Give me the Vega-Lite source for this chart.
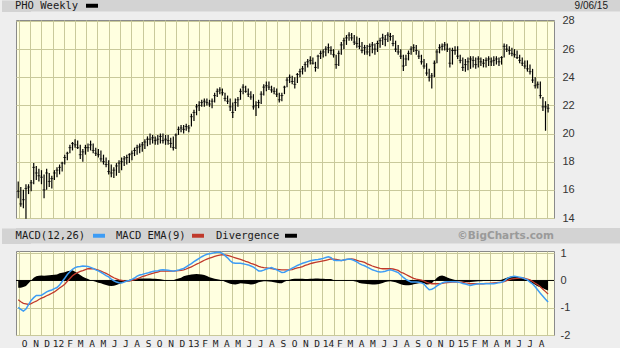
{
  "$schema": "https://vega.github.io/schema/vega-lite/v6.json",
  "background": "#eeeeee",
  "padding": 0,
  "spacing": 2,
  "config": {
    "axis": {"gridColor": "#c9c99b", "gridWidth": 1, "gridOpacity": 1, "labelColor": "#333333", "labelFont": "Liberation Sans", "labelFontSize": 11, "labelOverlap": false},
    "view": {"stroke": null}
  },
  "datasets": {
    "w": [
      {"d":"2011-09-30","l":15.4,"h":16.6,"c":15.9,"m":-0.99,"s":-0.71,"v":-0.27},
      {"d":"2011-10-07","l":14.8,"h":16.2,"c":15.0,"m":-1.06,"s":-0.78,"v":-0.27},
      {"d":"2011-10-14","l":14.7,"h":16.0,"c":15.3,"m":-1.12,"s":-0.84,"v":-0.24},
      {"d":"2011-10-21","l":13.95,"h":16.4,"c":16.1,"m":-1.05,"s":-0.86,"v":-0.2},
      {"d":"2011-10-28","l":15.7,"h":16.4,"c":16.2,"m":-0.89,"s":-0.88,"v":-0.1},
      {"d":"2011-11-04","l":15.9,"h":16.7,"c":16.5,"m":-0.73,"s":-0.85,"v":0.0},
      {"d":"2011-11-11","l":16.4,"h":17.9,"c":17.6,"m":-0.63,"s":-0.80,"v":0.1},
      {"d":"2011-11-18","l":16.7,"h":17.7,"c":17.2,"m":-0.55,"s":-0.76,"v":0.15},
      {"d":"2011-11-25","l":16.6,"h":17.5,"c":17.0,"m":-0.55,"s":-0.70,"v":0.17},
      {"d":"2011-12-02","l":16.4,"h":17.4,"c":16.9,"m":-0.54,"s":-0.65,"v":0.18},
      {"d":"2011-12-09","l":15.4,"h":17.1,"c":16.0,"m":-0.48,"s":-0.61,"v":0.17},
      {"d":"2011-12-16","l":16.0,"h":17.5,"c":17.2,"m":-0.42,"s":-0.56,"v":0.18},
      {"d":"2011-12-23","l":16.2,"h":17.2,"c":16.6,"m":-0.38,"s":-0.52,"v":0.19},
      {"d":"2011-12-30","l":16.1,"h":17.0,"c":16.8,"m":-0.35,"s":-0.47,"v":0.2},
      {"d":"2012-01-06","l":16.7,"h":17.4,"c":17.2,"m":-0.3,"s":-0.42,"v":0.21},
      {"d":"2012-01-13","l":16.9,"h":17.6,"c":17.4,"m":-0.26,"s":-0.35,"v":0.22},
      {"d":"2012-01-20","l":17.1,"h":17.8,"c":17.6,"m":-0.17,"s":-0.28,"v":0.26},
      {"d":"2012-01-27","l":17.3,"h":18.0,"c":17.9,"m":-0.04,"s":-0.21,"v":0.28},
      {"d":"2012-02-03","l":17.8,"h":18.5,"c":18.3,"m":0.08,"s":-0.14,"v":0.3},
      {"d":"2012-02-10","l":18.1,"h":18.7,"c":18.6,"m":0.22,"s":-0.03,"v":0.34},
      {"d":"2012-02-17","l":18.6,"h":19.2,"c":19.0,"m":0.32,"s":0.07,"v":0.36},
      {"d":"2012-02-24","l":18.8,"h":19.4,"c":19.3,"m":0.41,"s":0.17,"v":0.37},
      {"d":"2012-03-02","l":19.0,"h":19.6,"c":19.2,"m":0.47,"s":0.24,"v":0.32},
      {"d":"2012-03-09","l":18.9,"h":19.5,"c":19.0,"m":0.50,"s":0.29,"v":0.26},
      {"d":"2012-03-16","l":18.2,"h":19.2,"c":18.5,"m":0.51,"s":0.33,"v":0.2},
      {"d":"2012-03-23","l":18.0,"h":18.9,"c":18.7,"m":0.53,"s":0.36,"v":0.14},
      {"d":"2012-03-30","l":18.5,"h":19.2,"c":19.0,"m":0.52,"s":0.40,"v":0.09},
      {"d":"2012-04-06","l":18.7,"h":19.3,"c":19.0,"m":0.51,"s":0.43,"v":0.05},
      {"d":"2012-04-13","l":18.8,"h":19.5,"c":19.2,"m":0.48,"s":0.43,"v":0.01},
      {"d":"2012-04-20","l":18.6,"h":19.3,"c":18.8,"m":0.44,"s":0.43,"v":-0.02},
      {"d":"2012-04-27","l":18.4,"h":19.0,"c":18.6,"m":0.39,"s":0.41,"v":-0.05},
      {"d":"2012-05-04","l":18.3,"h":18.9,"c":18.5,"m":0.35,"s":0.38,"v":-0.08},
      {"d":"2012-05-11","l":18.0,"h":18.8,"c":18.2,"m":0.30,"s":0.34,"v":-0.1},
      {"d":"2012-05-18","l":17.8,"h":18.5,"c":18.0,"m":0.24,"s":0.30,"v":-0.14},
      {"d":"2012-05-25","l":17.6,"h":18.3,"c":17.8,"m":0.18,"s":0.26,"v":-0.17},
      {"d":"2012-06-01","l":17.1,"h":18.1,"c":17.3,"m":0.13,"s":0.21,"v":-0.19},
      {"d":"2012-06-08","l":16.9,"h":17.8,"c":17.2,"m":0.05,"s":0.15,"v":-0.2},
      {"d":"2012-06-15","l":16.85,"h":17.6,"c":17.4,"m":-0.01,"s":0.10,"v":-0.19},
      {"d":"2012-06-22","l":17.0,"h":17.9,"c":17.7,"m":-0.06,"s":0.06,"v":-0.17},
      {"d":"2012-06-29","l":17.2,"h":18.1,"c":17.9,"m":-0.08,"s":0.02,"v":-0.13},
      {"d":"2012-07-06","l":17.4,"h":18.3,"c":18.0,"m":-0.09,"s":0.0,"v":-0.09},
      {"d":"2012-07-13","l":17.7,"h":18.4,"c":18.2,"m":-0.06,"s":-0.02,"v":-0.05},
      {"d":"2012-07-20","l":17.8,"h":18.5,"c":18.3,"m":-0.02,"s":-0.03,"v":-0.02},
      {"d":"2012-07-27","l":17.9,"h":18.6,"c":18.5,"m":0.0,"s":-0.02,"v":0.03},
      {"d":"2012-08-03","l":18.1,"h":18.8,"c":18.6,"m":0.04,"s":0.0,"v":0.04},
      {"d":"2012-08-10","l":18.4,"h":19.0,"c":18.8,"m":0.09,"s":0.03,"v":0.05},
      {"d":"2012-08-17","l":18.5,"h":19.2,"c":19.0,"m":0.16,"s":0.06,"v":0.06},
      {"d":"2012-08-24","l":18.6,"h":19.3,"c":19.1,"m":0.2,"s":0.1,"v":0.07},
      {"d":"2012-08-31","l":18.7,"h":19.4,"c":19.2,"m":0.22,"s":0.14,"v":0.07},
      {"d":"2012-09-07","l":18.9,"h":19.6,"c":19.4,"m":0.25,"s":0.17,"v":0.07},
      {"d":"2012-09-14","l":19.1,"h":19.8,"c":19.6,"m":0.27,"s":0.20,"v":0.07},
      {"d":"2012-09-21","l":19.2,"h":20.0,"c":19.6,"m":0.30,"s":0.23,"v":0.07},
      {"d":"2012-09-28","l":19.3,"h":19.9,"c":19.7,"m":0.33,"s":0.26,"v":0.06},
      {"d":"2012-10-05","l":19.2,"h":19.8,"c":19.5,"m":0.35,"s":0.29,"v":0.06},
      {"d":"2012-10-12","l":19.2,"h":19.9,"c":19.6,"m":0.36,"s":0.31,"v":0.05},
      {"d":"2012-10-19","l":19.3,"h":20.0,"c":19.8,"m":0.38,"s":0.34,"v":0.04},
      {"d":"2012-10-26","l":19.3,"h":20.0,"c":19.5,"m":0.39,"s":0.34,"v":0.03},
      {"d":"2012-11-02","l":19.2,"h":19.9,"c":19.6,"m":0.38,"s":0.34,"v":0.01},
      {"d":"2012-11-09","l":19.2,"h":19.9,"c":19.5,"m":0.37,"s":0.34,"v":0.0},
      {"d":"2012-11-16","l":19.0,"h":19.7,"c":19.3,"m":0.36,"s":0.34,"v":0.0},
      {"d":"2012-11-23","l":18.8,"h":19.8,"c":19.0,"m":0.34,"s":0.34,"v":0.01},
      {"d":"2012-11-30","l":18.9,"h":20.0,"c":19.9,"m":0.36,"s":0.35,"v":0.04},
      {"d":"2012-12-07","l":19.9,"h":20.5,"c":20.3,"m":0.38,"s":0.36,"v":0.07},
      {"d":"2012-12-14","l":20.1,"h":20.6,"c":20.4,"m":0.41,"s":0.37,"v":0.1},
      {"d":"2012-12-21","l":20.0,"h":20.6,"c":20.3,"m":0.44,"s":0.39,"v":0.15},
      {"d":"2012-12-28","l":20.2,"h":20.7,"c":20.5,"m":0.5,"s":0.42,"v":0.18},
      {"d":"2013-01-04","l":20.1,"h":20.6,"c":20.4,"m":0.56,"s":0.46,"v":0.2},
      {"d":"2013-01-11","l":20.5,"h":21.4,"c":21.2,"m":0.62,"s":0.50,"v":0.22},
      {"d":"2013-01-18","l":20.9,"h":21.7,"c":21.5,"m":0.69,"s":0.55,"v":0.23},
      {"d":"2013-01-25","l":21.3,"h":22.1,"c":21.9,"m":0.75,"s":0.60,"v":0.24},
      {"d":"2013-02-01","l":21.6,"h":22.3,"c":22.0,"m":0.81,"s":0.64,"v":0.23},
      {"d":"2013-02-08","l":21.9,"h":22.4,"c":22.2,"m":0.87,"s":0.69,"v":0.22},
      {"d":"2013-02-15","l":21.9,"h":22.5,"c":22.3,"m":0.92,"s":0.74,"v":0.2},
      {"d":"2013-02-22","l":22.0,"h":22.5,"c":22.2,"m":0.96,"s":0.78,"v":0.16},
      {"d":"2013-03-01","l":21.9,"h":22.4,"c":22.1,"m":0.98,"s":0.82,"v":0.12},
      {"d":"2013-03-08","l":21.8,"h":22.5,"c":22.3,"m":1.0,"s":0.85,"v":0.09},
      {"d":"2013-03-15","l":22.2,"h":22.9,"c":22.7,"m":1.02,"s":0.88,"v":0.06},
      {"d":"2013-03-22","l":22.6,"h":23.2,"c":23.0,"m":1.03,"s":0.91,"v":0.04},
      {"d":"2013-03-29","l":22.8,"h":23.3,"c":23.1,"m":1.03,"s":0.93,"v":0.03},
      {"d":"2013-04-05","l":22.7,"h":23.2,"c":22.9,"m":0.99,"s":0.95,"v":0.0},
      {"d":"2013-04-12","l":22.3,"h":22.9,"c":22.5,"m":0.91,"s":0.94,"v":-0.05},
      {"d":"2013-04-19","l":22.1,"h":22.7,"c":22.3,"m":0.83,"s":0.92,"v":-0.08},
      {"d":"2013-04-26","l":21.6,"h":22.5,"c":21.9,"m":0.72,"s":0.89,"v":-0.12},
      {"d":"2013-05-03","l":21.1,"h":22.2,"c":21.5,"m":0.65,"s":0.86,"v":-0.14},
      {"d":"2013-05-10","l":21.6,"h":22.5,"c":22.2,"m":0.63,"s":0.83,"v":-0.15},
      {"d":"2013-05-17","l":21.9,"h":22.6,"c":22.4,"m":0.63,"s":0.80,"v":-0.13},
      {"d":"2013-05-24","l":22.4,"h":23.2,"c":23.0,"m":0.63,"s":0.77,"v":-0.1},
      {"d":"2013-05-31","l":22.8,"h":23.5,"c":23.3,"m":0.61,"s":0.74,"v":-0.11},
      {"d":"2013-06-07","l":22.9,"h":23.4,"c":23.0,"m":0.59,"s":0.70,"v":-0.12},
      {"d":"2013-06-14","l":22.6,"h":23.2,"c":22.8,"m":0.57,"s":0.67,"v":-0.13},
      {"d":"2013-06-21","l":22.4,"h":23.0,"c":22.6,"m":0.53,"s":0.63,"v":-0.15},
      {"d":"2013-06-28","l":21.7,"h":22.8,"c":21.9,"m":0.49,"s":0.60,"v":-0.14},
      {"d":"2013-07-05","l":21.25,"h":22.3,"c":22.0,"m":0.42,"s":0.56,"v":-0.11},
      {"d":"2013-07-12","l":21.8,"h":22.4,"c":22.2,"m":0.35,"s":0.52,"v":-0.07},
      {"d":"2013-07-19","l":22.1,"h":23.0,"c":22.8,"m":0.35,"s":0.49,"v":-0.05},
      {"d":"2013-07-26","l":22.7,"h":23.5,"c":23.3,"m":0.38,"s":0.47,"v":-0.03},
      {"d":"2013-08-02","l":23.0,"h":23.7,"c":23.4,"m":0.42,"s":0.46,"v":-0.03},
      {"d":"2013-08-09","l":23.1,"h":23.7,"c":23.3,"m":0.45,"s":0.44,"v":-0.04},
      {"d":"2013-08-16","l":22.9,"h":23.4,"c":23.1,"m":0.47,"s":0.43,"v":-0.05},
      {"d":"2013-08-23","l":22.8,"h":23.3,"c":23.0,"m":0.43,"s":0.42,"v":-0.07},
      {"d":"2013-08-30","l":22.6,"h":23.2,"c":22.8,"m":0.39,"s":0.41,"v":-0.08},
      {"d":"2013-09-06","l":22.2,"h":22.9,"c":22.4,"m":0.34,"s":0.40,"v":-0.1},
      {"d":"2013-09-13","l":22.3,"h":22.9,"c":22.7,"m":0.29,"s":0.39,"v":-0.1},
      {"d":"2013-09-20","l":22.8,"h":23.4,"c":23.3,"m":0.3,"s":0.39,"v":-0.05},
      {"d":"2013-09-27","l":23.3,"h":24.0,"c":23.8,"m":0.35,"s":0.39,"v":-0.01},
      {"d":"2013-10-04","l":23.6,"h":24.2,"c":24.0,"m":0.40,"s":0.39,"v":0.03},
      {"d":"2013-10-11","l":23.5,"h":24.1,"c":23.7,"m":0.45,"s":0.40,"v":0.05},
      {"d":"2013-10-18","l":23.2,"h":24.0,"c":23.5,"m":0.50,"s":0.43,"v":0.06},
      {"d":"2013-10-25","l":23.6,"h":24.3,"c":24.2,"m":0.55,"s":0.46,"v":0.06},
      {"d":"2013-11-01","l":24.0,"h":24.6,"c":24.4,"m":0.59,"s":0.48,"v":0.06},
      {"d":"2013-11-08","l":24.2,"h":24.8,"c":24.6,"m":0.63,"s":0.51,"v":0.06},
      {"d":"2013-11-15","l":24.4,"h":25.1,"c":24.9,"m":0.66,"s":0.55,"v":0.05},
      {"d":"2013-11-22","l":24.7,"h":25.3,"c":25.1,"m":0.69,"s":0.58,"v":0.05},
      {"d":"2013-11-29","l":24.9,"h":25.5,"c":25.2,"m":0.72,"s":0.62,"v":0.06},
      {"d":"2013-12-06","l":24.9,"h":25.4,"c":25.0,"m":0.74,"s":0.64,"v":0.06},
      {"d":"2013-12-13","l":24.4,"h":25.1,"c":24.7,"m":0.76,"s":0.66,"v":0.07},
      {"d":"2013-12-20","l":24.6,"h":25.6,"c":25.5,"m":0.77,"s":0.68,"v":0.07},
      {"d":"2013-12-27","l":25.3,"h":25.9,"c":25.7,"m":0.79,"s":0.70,"v":0.06},
      {"d":"2014-01-03","l":25.4,"h":26.0,"c":25.8,"m":0.81,"s":0.72,"v":0.06},
      {"d":"2014-01-10","l":25.5,"h":26.2,"c":26.0,"m":0.84,"s":0.74,"v":0.05},
      {"d":"2014-01-17","l":25.7,"h":26.4,"c":26.1,"m":0.87,"s":0.76,"v":0.05},
      {"d":"2014-01-24","l":25.6,"h":26.2,"c":25.9,"m":0.84,"s":0.79,"v":0.05},
      {"d":"2014-01-31","l":25.4,"h":26.0,"c":25.6,"m":0.75,"s":0.78,"v":0.02},
      {"d":"2014-02-07","l":24.6,"h":25.6,"c":24.9,"m":0.73,"s":0.77,"v":0.0},
      {"d":"2014-02-14","l":24.8,"h":25.9,"c":25.7,"m":0.73,"s":0.75,"v":0.0},
      {"d":"2014-02-21","l":25.6,"h":26.5,"c":26.3,"m":0.73,"s":0.73,"v":0.0},
      {"d":"2014-02-28","l":26.0,"h":26.8,"c":26.6,"m":0.75,"s":0.75,"v":0.01},
      {"d":"2014-03-07","l":26.3,"h":27.0,"c":26.8,"m":0.77,"s":0.77,"v":0.02},
      {"d":"2014-03-14","l":26.6,"h":27.2,"c":27.0,"m":0.79,"s":0.78,"v":0.01},
      {"d":"2014-03-21","l":26.6,"h":27.15,"c":26.8,"m":0.77,"s":0.79,"v":0.0},
      {"d":"2014-03-28","l":26.3,"h":27.0,"c":26.5,"m":0.73,"s":0.77,"v":-0.03},
      {"d":"2014-04-04","l":26.1,"h":26.9,"c":26.4,"m":0.68,"s":0.74,"v":-0.05},
      {"d":"2014-04-11","l":26.0,"h":26.8,"c":26.2,"m":0.62,"s":0.71,"v":-0.09},
      {"d":"2014-04-18","l":25.7,"h":26.5,"c":25.9,"m":0.57,"s":0.69,"v":-0.11},
      {"d":"2014-04-25","l":25.6,"h":26.3,"c":26.1,"m":0.54,"s":0.66,"v":-0.12},
      {"d":"2014-05-02","l":25.6,"h":26.3,"c":25.8,"m":0.49,"s":0.61,"v":-0.13},
      {"d":"2014-05-09","l":25.5,"h":26.4,"c":26.2,"m":0.44,"s":0.57,"v":-0.14},
      {"d":"2014-05-16","l":25.7,"h":26.5,"c":26.3,"m":0.39,"s":0.53,"v":-0.15},
      {"d":"2014-05-23","l":25.6,"h":26.4,"c":26.0,"m":0.36,"s":0.50,"v":-0.15},
      {"d":"2014-05-30","l":25.8,"h":26.6,"c":26.4,"m":0.33,"s":0.47,"v":-0.14},
      {"d":"2014-06-06","l":26.1,"h":26.8,"c":26.6,"m":0.31,"s":0.44,"v":-0.12},
      {"d":"2014-06-13","l":26.3,"h":27.1,"c":26.8,"m":0.32,"s":0.43,"v":-0.09},
      {"d":"2014-06-20","l":26.2,"h":27.0,"c":26.7,"m":0.34,"s":0.43,"v":-0.06},
      {"d":"2014-06-27","l":26.5,"h":27.2,"c":27.0,"m":0.37,"s":0.43,"v":-0.04},
      {"d":"2014-07-04","l":26.6,"h":27.15,"c":26.9,"m":0.39,"s":0.43,"v":-0.03},
      {"d":"2014-07-11","l":26.2,"h":27.0,"c":26.4,"m":0.36,"s":0.42,"v":-0.05},
      {"d":"2014-07-18","l":25.8,"h":26.6,"c":26.0,"m":0.33,"s":0.40,"v":-0.07},
      {"d":"2014-07-25","l":25.6,"h":26.3,"c":25.8,"m":0.29,"s":0.37,"v":-0.1},
      {"d":"2014-08-01","l":25.3,"h":26.0,"c":25.5,"m":0.20,"s":0.30,"v":-0.14},
      {"d":"2014-08-08","l":24.45,"h":25.6,"c":24.8,"m":0.11,"s":0.27,"v":-0.17},
      {"d":"2014-08-15","l":24.8,"h":25.6,"c":25.3,"m":0.04,"s":0.22,"v":-0.18},
      {"d":"2014-08-22","l":25.2,"h":25.9,"c":25.7,"m":-0.01,"s":0.17,"v":-0.18},
      {"d":"2014-08-29","l":25.6,"h":26.2,"c":26.0,"m":-0.06,"s":0.12,"v":-0.17},
      {"d":"2014-09-05","l":25.8,"h":26.35,"c":26.1,"m":-0.06,"s":0.08,"v":-0.14},
      {"d":"2014-09-12","l":25.6,"h":26.3,"c":25.9,"m":-0.06,"s":0.05,"v":-0.12},
      {"d":"2014-09-19","l":25.3,"h":25.9,"c":25.5,"m":-0.07,"s":0.03,"v":-0.1},
      {"d":"2014-09-26","l":24.9,"h":25.6,"c":25.1,"m":-0.09,"s":0.01,"v":-0.08},
      {"d":"2014-10-03","l":24.6,"h":25.3,"c":24.8,"m":-0.13,"s":-0.02,"v":-0.1},
      {"d":"2014-10-10","l":24.1,"h":25.0,"c":24.3,"m":-0.25,"s":-0.07,"v":-0.15},
      {"d":"2014-10-17","l":23.7,"h":24.6,"c":24.0,"m":-0.34,"s":-0.10,"v":-0.14},
      {"d":"2014-10-24","l":23.2,"h":24.3,"c":24.1,"m":-0.32,"s":-0.12,"v":-0.1},
      {"d":"2014-10-31","l":24.0,"h":25.2,"c":25.0,"m":-0.27,"s":-0.12,"v":0.0},
      {"d":"2014-11-07","l":25.0,"h":26.0,"c":25.8,"m":-0.2,"s":-0.12,"v":0.1},
      {"d":"2014-11-14","l":25.7,"h":26.35,"c":26.1,"m":-0.14,"s":-0.12,"v":0.16},
      {"d":"2014-11-21","l":25.9,"h":26.4,"c":26.2,"m":-0.09,"s":-0.11,"v":0.18},
      {"d":"2014-11-28","l":25.9,"h":26.5,"c":26.3,"m":-0.06,"s":-0.09,"v":0.15},
      {"d":"2014-12-05","l":25.8,"h":26.4,"c":26.0,"m":-0.05,"s":-0.08,"v":0.11},
      {"d":"2014-12-12","l":24.7,"h":26.1,"c":25.0,"m":-0.05,"s":-0.07,"v":0.07},
      {"d":"2014-12-19","l":24.9,"h":26.1,"c":25.9,"m":-0.05,"s":-0.06,"v":0.04},
      {"d":"2014-12-26","l":25.6,"h":26.2,"c":25.9,"m":-0.05,"s":-0.06,"v":0.02},
      {"d":"2015-01-02","l":25.3,"h":26.2,"c":25.5,"m":-0.06,"s":-0.06,"v":0.0},
      {"d":"2015-01-09","l":25.0,"h":25.6,"c":25.2,"m":-0.08,"s":-0.06,"v":-0.03},
      {"d":"2015-01-16","l":24.45,"h":25.4,"c":24.7,"m":-0.11,"s":-0.07,"v":-0.05},
      {"d":"2015-01-23","l":24.4,"h":25.3,"c":24.9,"m":-0.13,"s":-0.09,"v":-0.06},
      {"d":"2015-01-30","l":24.5,"h":25.4,"c":25.1,"m":-0.16,"s":-0.10,"v":-0.06},
      {"d":"2015-02-06","l":24.6,"h":25.5,"c":25.3,"m":-0.18,"s":-0.12,"v":-0.06},
      {"d":"2015-02-13","l":24.7,"h":25.5,"c":25.2,"m":-0.16,"s":-0.12,"v":-0.05},
      {"d":"2015-02-20","l":24.6,"h":25.4,"c":24.9,"m":-0.14,"s":-0.12,"v":-0.04},
      {"d":"2015-02-27","l":24.7,"h":25.5,"c":25.3,"m":-0.12,"s":-0.12,"v":-0.03},
      {"d":"2015-03-06","l":24.8,"h":25.4,"c":25.1,"m":-0.12,"s":-0.12,"v":-0.03},
      {"d":"2015-03-13","l":24.7,"h":25.3,"c":25.0,"m":-0.12,"s":-0.12,"v":-0.02},
      {"d":"2015-03-20","l":24.7,"h":25.4,"c":25.2,"m":-0.12,"s":-0.11,"v":-0.02},
      {"d":"2015-03-27","l":24.8,"h":25.5,"c":25.3,"m":-0.12,"s":-0.11,"v":-0.02},
      {"d":"2015-04-03","l":24.8,"h":25.4,"c":25.1,"m":-0.12,"s":-0.10,"v":-0.02},
      {"d":"2015-04-10","l":24.8,"h":25.5,"c":25.2,"m":-0.12,"s":-0.09,"v":-0.01},
      {"d":"2015-04-17","l":24.9,"h":25.5,"c":25.3,"m":-0.10,"s":-0.08,"v":0.0},
      {"d":"2015-04-24","l":24.8,"h":25.4,"c":25.1,"m":-0.08,"s":-0.07,"v":0.01},
      {"d":"2015-05-01","l":24.9,"h":25.5,"c":25.4,"m":-0.07,"s":-0.06,"v":0.03},
      {"d":"2015-05-08","l":25.4,"h":26.4,"c":26.2,"m":-0.02,"s":-0.04,"v":0.06},
      {"d":"2015-05-15","l":25.8,"h":26.35,"c":26.0,"m":0.06,"s":-0.01,"v":0.1},
      {"d":"2015-05-22","l":25.6,"h":26.2,"c":25.9,"m":0.11,"s":0.03,"v":0.13},
      {"d":"2015-05-29","l":25.5,"h":26.1,"c":25.7,"m":0.14,"s":0.06,"v":0.15},
      {"d":"2015-06-05","l":25.4,"h":26.0,"c":25.6,"m":0.15,"s":0.07,"v":0.15},
      {"d":"2015-06-12","l":25.3,"h":25.9,"c":25.4,"m":0.14,"s":0.08,"v":0.14},
      {"d":"2015-06-19","l":25.0,"h":25.6,"c":25.2,"m":0.12,"s":0.09,"v":0.11},
      {"d":"2015-06-26","l":24.8,"h":25.4,"c":25.0,"m":0.1,"s":0.1,"v":0.08},
      {"d":"2015-07-03","l":24.6,"h":25.2,"c":24.8,"m":0.06,"s":0.08,"v":0.04},
      {"d":"2015-07-10","l":24.4,"h":25.2,"c":24.6,"m":0.02,"s":0.05,"v":0.0},
      {"d":"2015-07-17","l":24.2,"h":24.9,"c":24.4,"m":-0.06,"s":0.02,"v":-0.05},
      {"d":"2015-07-24","l":23.6,"h":24.6,"c":23.8,"m":-0.13,"s":-0.04,"v":-0.1},
      {"d":"2015-07-31","l":23.2,"h":24.0,"c":23.4,"m":-0.23,"s":-0.10,"v":-0.16},
      {"d":"2015-08-07","l":23.2,"h":23.7,"c":23.5,"m":-0.35,"s":-0.16,"v":-0.21},
      {"d":"2015-08-14","l":22.5,"h":23.7,"c":22.7,"m":-0.47,"s":-0.23,"v":-0.25},
      {"d":"2015-08-21","l":21.6,"h":22.6,"c":21.9,"m":-0.58,"s":-0.32,"v":-0.29},
      {"d":"2015-08-28","l":20.2,"h":22.3,"c":21.9,"m":-0.69,"s":-0.41,"v":-0.33},
      {"d":"2015-09-04","l":21.5,"h":22.1,"c":21.8,"m":-0.79,"s":-0.50,"v":-0.37}
    ]
  },
  "vconcat": [
    {
      "width": 605,
      "height": 11.5,
      "view": {"fill": "#d3d3d3", "stroke": null},
      "data": {"values": [{"k": 1}]},
      "encoding": {
        "y": {"datum": 0.5, "type": "quantitative", "scale": {"domain": [0, 1]},
              "axis": {"orient": "left", "labels": false, "ticks": false, "grid": false, "domain": true,
                       "domainColor": "#d3d3d3", "domainWidth": 29, "domainCap": "butt", "title": null}}
      },
      "layer": [
        {"mark": {"type": "text", "align": "left", "baseline": "middle", "font": "DejaVu Sans Mono", "fontSize": 10.5, "color": "#1a1a1a"},
         "encoding": {"x": {"datum": -0.0017, "type": "quantitative", "scale": {"domain": [0, 1]}, "axis": null}, "text": {"value": "PHO Weekly"}}},
        {"mark": {"type": "point", "shape": "M-1,-0.33H1V0.33H-1Z", "filled": true, "size": 144, "color": "#000000", "opacity": 1},
         "encoding": {"x": {"datum": 0.1256, "type": "quantitative"}}},
        {"mark": {"type": "text", "align": "right", "baseline": "middle", "font": "Liberation Sans", "fontSize": 10, "color": "#1a1a1a"},
         "encoding": {"x": {"datum": 0.9785, "type": "quantitative"}, "text": {"value": "9/06/15"}}}
      ]
    },
    {
      "width": 538,
      "height": 198,
      "view": {"fill": "#ffffe0", "stroke": "#8a8a8a"},
      "data": {"name": "w"},
      "layer": [
        {
          "layer": [
            {"mark": {"type": "rule", "color": "#000000", "strokeWidth": 1.2},
             "encoding": {
               "x": {"field": "d", "type": "temporal",
                     "scale": {"domain": ["2011-09-24", "2015-09-20"]},
                     "axis": {"orient": "bottom", "grid": true, "labels": false, "ticks": false, "domain": false,
                              "tickCount": {"interval": "month", "step": 1}, "minExtent": 7, "maxExtent": 7, "title": null}},
               "y": {"field": "l", "type": "quantitative",
                     "scale": {"domain": [14, 28.07], "zero": false, "nice": false},
                     "axis": {"orient": "right", "values": [14, 16, 18, 20, 22, 24, 26, 28], "tickCount": 20, "grid": true, "ticks": false,
                              "domain": false, "labelPadding": 8, "labelOverlap": false, "labelExpr": "datum.value + ''", "title": null}},
               "y2": {"field": "h"}
             }},
            {"mark": {"type": "tick", "orient": "horizontal", "size": 3, "thickness": 1, "color": "#000000"},
             "encoding": {
               "x": {"field": "d", "type": "temporal"},
               "y": {"field": "c", "type": "quantitative"}
             }}
          ]
        },
        {
          "data": {"values": [{"k": 1}]},
          "mark": {"type": "rule", "opacity": 0},
          "encoding": {
            "y": {"datum": 14, "type": "quantitative", "scale": {"domain": [14, 28.07]},
                  "axis": {"orient": "left", "labels": false, "ticks": false, "domain": false, "grid": false,
                           "title": null, "minExtent": 15, "maxExtent": 15}}
          }
        }
      ],
      "resolve": {"scale": {"y": "independent"}, "axis": {"y": "independent"}}
    },
    {
      "width": 605,
      "height": 15.5,
      "view": {"fill": "#d3d3d3", "stroke": null},
      "data": {"values": [{"k": 1}]},
      "encoding": {
        "y": {"datum": 0.5, "type": "quantitative", "scale": {"domain": [0, 1]},
              "axis": {"orient": "left", "labels": false, "ticks": false, "grid": false, "domain": true,
                       "domainColor": "#d3d3d3", "domainWidth": 29, "domainCap": "butt", "title": null}}
      },
      "layer": [
        {"mark": {"type": "text", "align": "left", "baseline": "middle", "font": "DejaVu Sans Mono", "fontSize": 10.5, "color": "#1a1a1a"},
         "encoding": {"x": {"datum": -0.0007, "type": "quantitative", "scale": {"domain": [0, 1]}, "axis": null}, "text": {"value": "MACD(12,26)"}}},
        {"mark": {"type": "point", "shape": "M-1,-0.33H1V0.33H-1Z", "filled": true, "size": 144, "color": "#3d9cf5", "opacity": 1},
         "encoding": {"x": {"datum": 0.1372, "type": "quantitative"}}},
        {"mark": {"type": "text", "align": "left", "baseline": "middle", "font": "DejaVu Sans Mono", "fontSize": 10.5, "color": "#1a1a1a"},
         "encoding": {"x": {"datum": 0.1653, "type": "quantitative"}, "text": {"value": "MACD EMA(9)"}}},
        {"mark": {"type": "point", "shape": "M-1,-0.33H1V0.33H-1Z", "filled": true, "size": 144, "color": "#c0392b", "opacity": 1},
         "encoding": {"x": {"datum": 0.3008, "type": "quantitative"}}},
        {"mark": {"type": "text", "align": "left", "baseline": "middle", "font": "DejaVu Sans Mono", "fontSize": 10.5, "color": "#1a1a1a"},
         "encoding": {"x": {"datum": 0.3306, "type": "quantitative"}, "text": {"value": "Divergence"}}},
        {"mark": {"type": "point", "shape": "M-1,-0.33H1V0.33H-1Z", "filled": true, "size": 144, "color": "#000000", "opacity": 1},
         "encoding": {"x": {"datum": 0.4545, "type": "quantitative"}}},
        {"mark": {"type": "text", "align": "right", "baseline": "middle", "font": "DejaVu Sans", "fontSize": 10.5, "fontWeight": "bold", "color": "#9a9a9a"},
         "encoding": {"x": {"datum": 0.8893, "type": "quantitative"}, "text": {"value": "©BigCharts.com"}}}
      ]
    },
    {
      "width": 538,
      "height": 84,
      "view": {"fill": "#ffffe0", "stroke": "#8a8a8a"},
      "data": {"name": "w"},
      "layer": [
        {
          "layer": [
            {"mark": {"type": "area", "color": "#000000", "opacity": 1},
             "encoding": {
               "x": {"field": "d", "type": "temporal",
                     "scale": {"domain": ["2011-09-24", "2015-09-20"]},
                     "axis": {"orient": "bottom", "grid": true, "ticks": false, "domain": false,
                              "tickCount": {"interval": "month", "step": 1},
                              "labelExpr": "month(datum.value) == 0 ? timeFormat(datum.value, '%y') : (datum.value > datetime(2015, 7, 15) ? '' : slice(timeFormat(datum.value, '%b'), 0, 1))",
                              "labelOffset": 5.5, "labelFont": "DejaVu Sans Mono", "labelFontSize": 9.5, "labelColor": "#222222",
                              "labelPadding": 3, "labelOverlap": false, "labelFlush": false, "labelBound": false, "title": null}},
               "y": {"field": "v", "type": "quantitative",
                     "scale": {"domain": [-2, 1.08], "zero": false, "nice": false},
                     "axis": {"orient": "right", "values": [-2, -1, 0, 1], "tickCount": 20, "grid": true, "ticks": false,
                              "domain": false, "labelPadding": 6, "labelOverlap": false, "labelExpr": "datum.value + ''", "title": null}},
               "y2": {"datum": 0}
             }},
            {"data": {"values": [{"k": 1}]},
             "mark": {"type": "rule", "color": "#000000", "strokeWidth": 1},
             "encoding": {"y": {"datum": 0, "type": "quantitative"}}},
            {"mark": {"type": "line", "color": "#c0392b", "strokeWidth": 1.3},
             "encoding": {"x": {"field": "d", "type": "temporal"}, "y": {"field": "s", "type": "quantitative"}}},
            {"mark": {"type": "line", "color": "#3d9cf5", "strokeWidth": 1.5},
             "encoding": {"x": {"field": "d", "type": "temporal"}, "y": {"field": "m", "type": "quantitative"}}}
          ]
        },
        {
          "data": {"values": [{"k": 1}]},
          "mark": {"type": "rule", "opacity": 0},
          "encoding": {
            "y": {"datum": 0, "type": "quantitative", "scale": {"domain": [-2, 1.08]},
                  "axis": {"orient": "left", "labels": false, "ticks": false, "domain": false, "grid": false,
                           "title": null, "minExtent": 15, "maxExtent": 15}}
          }
        }
      ],
      "resolve": {"scale": {"y": "independent"}, "axis": {"y": "independent"}}
    }
  ]
}
